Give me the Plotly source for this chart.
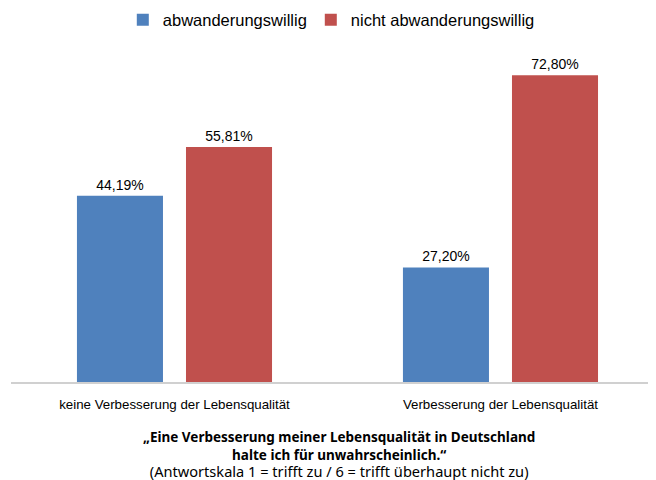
import plotly.graph_objects as go

categories = ["keine Verbesserung der Lebensqualität", "Verbesserung der Lebensqualität"]
series_names = ["abwanderungswillig", "nicht abwanderungswillig"]
abwanderungswillig = [44.19, 27.20]
nicht_abwanderungswillig = [55.81, 72.80]
colors = ["#4F81BD", "#C0504D"]
legend_widths = [143, 220]

fig = go.Figure()
for name, vals, col, lw in zip(series_names, [abwanderungswillig, nicht_abwanderungswillig], colors, legend_widths):
    fig.add_trace(go.Bar(
        x=categories, y=vals, name=name,
        marker=dict(color=col, line=dict(width=0)),
        texttemplate="%{y:.2f}%", textposition="outside",
        textfont=dict(family="Liberation Sans, Arial", size=14, color="#000000"),
        cliponaxis=False, legendwidth=lw,
    ))

# the page body adds an 8px offset, so figure coords = screen coords - 8
PLOT_BOTTOM = 374
PLOT_H = 337


def py(pix):
    return (PLOT_BOTTOM - pix) / PLOT_H


fig.update_layout(
    width=656, height=480,
    margin=dict(l=3, r=9, t=37, b=106, autoexpand=False),
    paper_bgcolor="white", plot_bgcolor="white",
    barmode="group", bargap=0.331, bargroupgap=0.211,
    separators=",.",
    showlegend=True,
    legend=dict(orientation="h", xref="container", x=0.175, xanchor="left",
                yref="container", y=1 - 12 / 480, yanchor="middle",
                font=dict(family="Liberation Sans, Arial", size=16.5, color="#000000"),
                itemwidth=30, traceorder="normal"),
    xaxis=dict(range=[-0.5015, 1.474], showline=True, linecolor="#D0D0D0", linewidth=2,
               ticks="", showgrid=False, automargin=False, ticklabelstandoff=9,
               tickfont=dict(family="Liberation Sans, Arial", size=13.3, color="#000000")),
    yaxis=dict(range=[0, 80], visible=False, showgrid=False, zeroline=False, automargin=False),
)

fig.add_annotation(
    xref="paper", yref="paper", x=0.51, y=py(446), yanchor="middle", showarrow=False,
    align="center",
    text=("<b>„Eine Verbesserung meiner Lebensqualität in Deutschland<br>"
          "halte ich für unwahrscheinlich.“</b><br>"
          "<span style='font-size:14.6px'>(Antwortskala 1 = trifft zu / 6 = trifft überhaupt nicht zu)</span>"),
    font=dict(family="Noto Sans, Open Sans", size=13.5, color="#000000"),
)

fig.write_html("out.html")
